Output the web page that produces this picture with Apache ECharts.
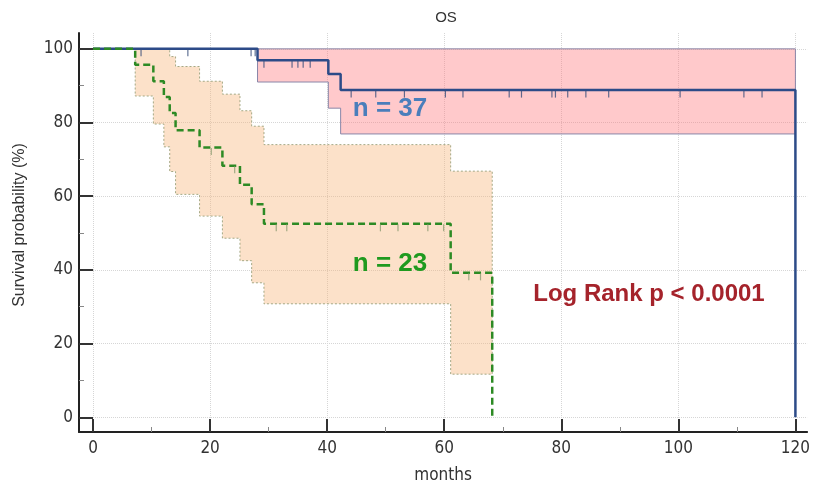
<!DOCTYPE html>
<html>
<head>
<meta charset="utf-8">
<title>OS</title>
<script src="https://cdn.jsdelivr.net/npm/echarts@6/dist/echarts.min.js"></script>
<style>
  html, body { margin: 0; padding: 0; background: #fff; }
  #chart { width: 813px; height: 489px; }
</style>
</head>
<body>
<div id="chart"></div>
<script>
// n = 37 : Kaplan-Meier steps (months, survival %)
var blueTime = [0, 28.1, 40.2, 42.3, 120];
var blueSurv = [100, 96.9, 93.2, 88.8, 0];
var blueCensor = [8.2, 16.2, 27.0, 27.7, 29.2, 34.0, 35.0, 35.9, 37.1,
  44.1, 48.3, 53.2, 60.2, 63.2, 71.1, 73.2, 78.4, 79.0, 81.1, 84.2, 88.1, 100.3, 111.2, 114.3];
// 95% CI band, segment i runs from ciTime[i] to ciTime[i+1]
var blueCiTime = [28.1, 40.2, 42.3, 120];
var blueCiLow = [91.0, 83.9, 76.9];
var blueCiHigh = [100, 100, 100];

// n = 23
var greenTime = [0, 7.2, 10.3, 12.1, 13.1, 14.1, 18.2, 22.1, 25.1, 27.1, 29.2, 61.1, 68.2];
var greenSurv = [100, 95.7, 91.2, 86.9, 82.6, 77.9, 73.2, 68.3, 63.1, 57.8, 52.5, 39.2, 0];
var greenCensor = [20.2, 24.2, 31.3, 33.1, 49.1, 52.1, 57.2, 59.9, 64.2, 66.2];
var greenCiTime = [7.2, 10.3, 12.1, 13.1, 14.1, 18.2, 22.1, 25.1, 27.1, 29.2, 61.1, 68.2];
var greenCiLow = [87.2, 79.6, 73.4, 66.7, 60.5, 54.6, 48.6, 42.5, 36.5, 30.8, 11.7];
var greenCiHigh = [100, 100, 100, 97.9, 95.2, 91.2, 87.7, 83.2, 79.0, 74.0, 66.8];

var xTicks = [0, 20, 40, 60, 80, 100, 120];
var xMinor = [10, 30, 50, 70, 90, 110];
var yTicks = [0, 20, 40, 60, 80, 100];
var yMinor = [10, 30, 50, 70, 90];

var numFont = '"Liberation Sans Narrow", "Arial Narrow", "DejaVu Sans Condensed", sans-serif';
var textFont = '"Liberation Sans", Arial, sans-serif';

function zip(a, b) {
  var out = [];
  for (var i = 0; i < a.length; i++) out.push([a[i], b[i]]);
  return out;
}

// survival level of a step curve at time t (for censor marks)
function levelAt(times, surv, t) {
  var v = surv[0];
  for (var i = 0; i < times.length; i++) {
    if (times[i] <= t) v = surv[i];
  }
  return v;
}

function censorData(times, surv, cens) {
  return cens.map(function (t) { return [t, levelAt(times, surv, t)]; });
}

function bandSeries(times, low, high, fill, stroke, dash) {
  return {
    type: 'custom',
    silent: true,
    z: 1,
    data: [[times[0], low[0]]],
    renderItem: function (params, api) {
      var pts = [];
      for (var i = 0; i < low.length; i++) {
        pts.push(api.coord([times[i], high[i]]));
        pts.push(api.coord([times[i + 1], high[i]]));
      }
      for (var j = low.length - 1; j >= 0; j--) {
        pts.push(api.coord([times[j + 1], low[j]]));
        pts.push(api.coord([times[j], low[j]]));
      }
      return {
        type: 'polygon',
        shape: { points: pts },
        style: { fill: fill, stroke: stroke, lineWidth: 1, lineDash: dash }
      };
    }
  };
}

var myChart = echarts.init(document.getElementById('chart'));

var option = {
  animation: false,
  backgroundColor: '#fff',
  grid: { left: 79, right: 3, top: 33, bottom: 52, containLabel: false },
  xAxis: [{
    type: 'value',
    min: -2.4,
    max: 122,
    position: 'bottom',
    axisLine: { onZero: false, lineStyle: { color: '#222', width: 2 } },
    axisTick: { inside: true, length: 13, customValues: xTicks, lineStyle: { color: '#333', width: 2 } },
    axisLabel: { customValues: xTicks, margin: 8, color: '#333', fontSize: 17, fontFamily: numFont },
    splitLine: { show: true, lineStyle: { color: '#d6d6d6', type: 'dotted', width: 1 } },
    name: 'months',
    nameLocation: 'middle',
    nameGap: 35,
    nameTextStyle: { color: '#333', fontSize: 17, fontFamily: numFont }
  }, {
    type: 'value',
    min: -2.4,
    max: 122,
    position: 'bottom',
    axisLine: { show: false, onZero: false },
    axisTick: { inside: true, length: 5, customValues: xMinor, lineStyle: { color: '#888', width: 1 } },
    axisLabel: { show: false },
    splitLine: { show: false }
  }],
  yAxis: [{
    type: 'value',
    min: -4,
    max: 104.3,
    position: 'left',
    axisLine: { show: true, onZero: false, lineStyle: { color: '#222', width: 2 } },
    axisTick: { show: true, inside: true, length: 14, customValues: yTicks, lineStyle: { color: '#333', width: 2 } },
    axisLabel: { customValues: yTicks, margin: 6, color: '#333', fontSize: 17, fontFamily: numFont },
    splitLine: { show: true, lineStyle: { color: '#d6d6d6', type: 'dotted', width: 1 } }
  }, {
    type: 'value',
    min: -4,
    max: 104.3,
    position: 'left',
    axisLine: { show: false, onZero: false },
    axisTick: { show: true, inside: true, length: 5, customValues: yMinor, lineStyle: { color: '#888', width: 1 } },
    axisLabel: { show: false },
    splitLine: { show: false }
  }],
  graphic: [
    { type: 'text', x: 446, y: 18, style: { text: 'OS', font: '15px ' + textFont, fill: '#333', textAlign: 'center', textVerticalAlign: 'middle' } },
    { type: 'text', x: 20, y: 225, rotation: Math.PI / 2, style: { text: 'Survival probability (%)', font: '16px ' + textFont, fill: '#333', textAlign: 'center', textVerticalAlign: 'middle' } },
    { type: 'text', x: 390, y: 109, z: 10, style: { text: 'n = 37', font: 'bold 26px ' + textFont, fill: '#4a7ebb', textAlign: 'center', textVerticalAlign: 'middle' } },
    { type: 'text', x: 390, y: 264, z: 10, style: { text: 'n = 23', font: 'bold 26px ' + textFont, fill: '#1f9a1f', textAlign: 'center', textVerticalAlign: 'middle' } },
    { type: 'text', x: 649, y: 294, z: 10, style: { text: 'Log Rank p < 0.0001', font: 'bold 24px ' + textFont, fill: '#a5232b', textAlign: 'center', textVerticalAlign: 'middle' } }
  ],
  series: [
    bandSeries(greenCiTime, greenCiLow, greenCiHigh, 'rgba(248,180,120,0.4)', '#a3a884', [2, 2]),
    bandSeries(blueCiTime, blueCiLow, blueCiHigh, 'rgba(255,120,125,0.4)', '#8a86a8', null),
    {
      name: 'n = 37',
      type: 'line',
      step: 'end',
      z: 3,
      symbol: 'none',
      data: zip(blueTime, blueSurv),
      lineStyle: { color: '#2c4b88', width: 2.5 }
    },
    {
      name: 'n = 23',
      type: 'line',
      step: 'end',
      z: 4,
      symbol: 'none',
      data: zip(greenTime, greenSurv),
      lineStyle: { color: '#2d8a24', width: 2.5, type: [7, 4] }
    },
    {
      type: 'scatter',
      z: 5,
      symbol: 'rect',
      symbolSize: [1.2, 7],
      symbolOffset: [0, 4],
      data: censorData(greenTime, greenSurv, greenCensor),
      itemStyle: { color: '#8c9c72' }
    },
    {
      type: 'scatter',
      z: 5,
      symbol: 'rect',
      symbolSize: [1.2, 7],
      symbolOffset: [0, 4],
      data: censorData(blueTime, blueSurv, blueCensor),
      itemStyle: { color: '#3a4f7a' }
    }
  ]
};

myChart.setOption(option);
</script>
</body>
</html>
